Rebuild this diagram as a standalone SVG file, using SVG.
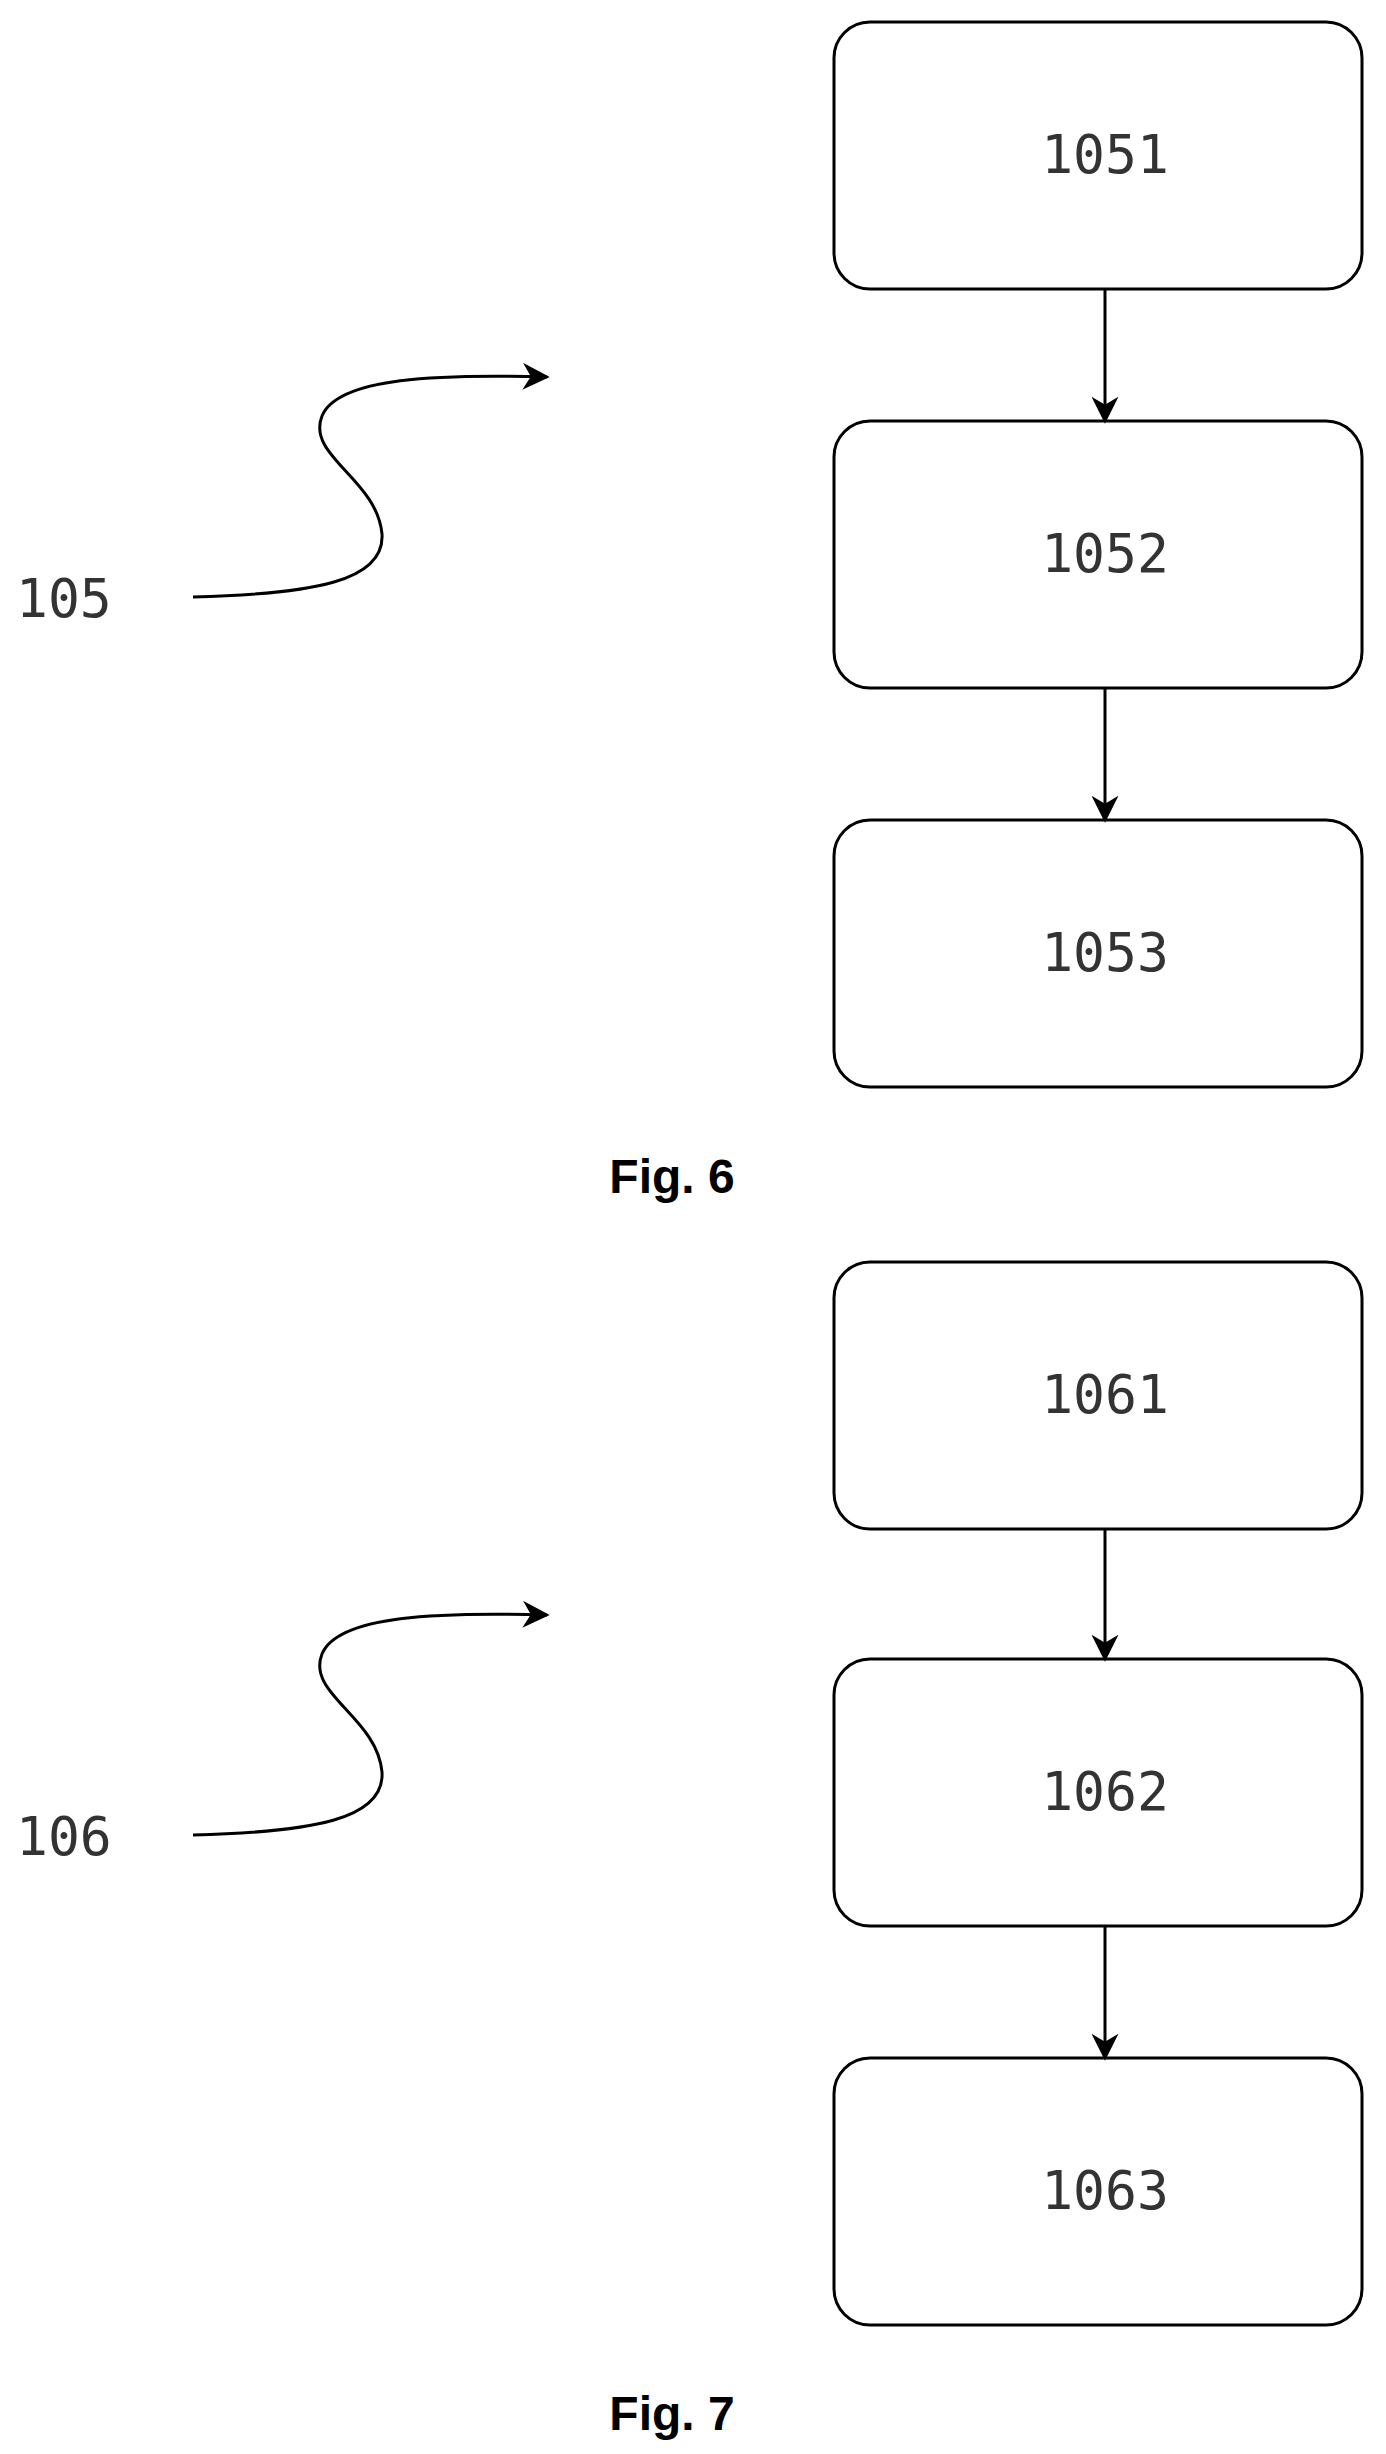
<svg xmlns="http://www.w3.org/2000/svg" width="1386" height="2454" viewBox="0 0 1386 2454">
<style>
.box{fill:#fff;stroke:#000;stroke-width:3}
.t{font-family:"DejaVu Sans Mono",monospace;font-size:53px;text-anchor:middle;fill:#333}
.lbl{font-family:"DejaVu Sans Mono",monospace;font-size:53px;fill:#333}
.fig{font-family:"Liberation Sans",Arial,sans-serif;font-size:48px;font-weight:bold;text-anchor:middle}
.c{fill:none;stroke:#000;stroke-width:3}
</style>
<defs>
<marker id="b" viewBox="0 0 10 10" refX="9" refY="5" markerWidth="9" markerHeight="9" orient="auto"><path d="M0,0L10,5L0,10L3,5z" fill="#000"/></marker></defs>
<g id="n1051"><rect class="box" x="834" y="22" width="528" height="267" rx="36"/><text class="t" x="1105" y="173">1051</text></g>
<g id="n1052"><rect class="box" x="834" y="421" width="528" height="267" rx="36"/><text class="t" x="1105" y="572">1052</text></g>
<g id="n1053"><rect class="box" x="834" y="820" width="528" height="267" rx="36"/><text class="t" x="1105" y="971">1053</text></g>
<g id="n1061"><rect class="box" x="834" y="1262" width="528" height="267" rx="36"/><text class="t" x="1105" y="1413">1061</text></g>
<g id="n1062"><rect class="box" x="834" y="1659" width="528" height="267" rx="36"/><text class="t" x="1105" y="1810">1062</text></g>
<g id="n1063"><rect class="box" x="834" y="2058" width="528" height="267" rx="36"/><text class="t" x="1105" y="2209">1063</text></g>
<g id="connectors">
<path class="c" d="M1105,289V421" marker-end="url(#b)"/>
<path class="c" d="M1105,688V820" marker-end="url(#b)"/>
<path class="c" d="M1105,1529V1659" marker-end="url(#b)"/>
<path class="c" d="M1105,1926V2058" marker-end="url(#b)"/>
<path class="c" d="M193,597 C314,594 385,581 382,534 C377,479 306,456 322,416 C338,377 440,374 547,377" marker-end="url(#b)"/>
<path class="c" d="M193,1835 C314,1832 385,1819 382,1772 C377,1717 306,1694 322,1654 C338,1615 440,1612 547,1615" marker-end="url(#b)"/>
</g>
<text class="lbl" x="16" y="617">105</text>
<text class="lbl" x="16" y="1855">106</text>
<text class="fig" x="672" y="1193">Fig. 6</text>
<text class="fig" x="672" y="2430">Fig. 7</text>
</svg>
